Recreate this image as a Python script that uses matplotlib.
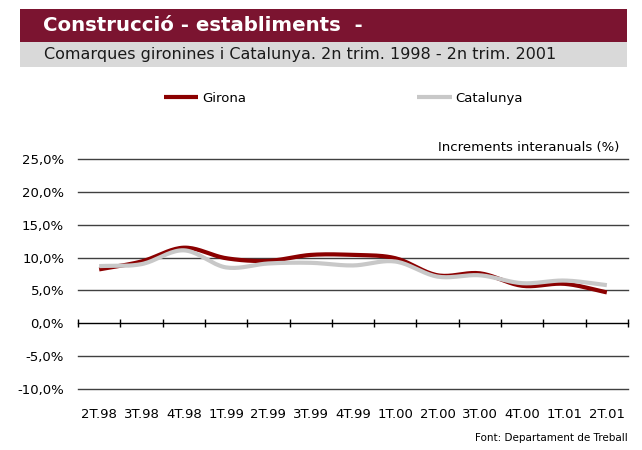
import numpy as np
import matplotlib
matplotlib.use("Agg")
import matplotlib.pyplot as plt
from matplotlib.patches import Rectangle

categories = ["2T.98", "3T.98", "4T.98", "1T.99", "2T.99", "3T.99", "4T.99",
              "1T.00", "2T.00", "3T.00", "4T.00", "1T.01", "2T.01"]
girona = [8.2, 9.4, 11.5, 9.9, 9.5, 10.4, 10.4, 9.9, 7.3, 7.6, 5.7, 6.0, 4.7]
catalunya = [8.7, 9.0, 11.1, 8.5, 9.1, 9.2, 8.8, 9.4, 7.1, 7.3, 6.1, 6.5, 5.8]
yticks = [-10, -5, 0, 5, 10, 15, 20, 25]


def smooth(y, n=20):
    y = np.asarray(y, float)
    x = np.arange(len(y), dtype=float)
    P = np.concatenate([[2 * y[0] - y[1]], y, [2 * y[-1] - y[-2]]])
    xs, ys = [], []
    for i in range(len(y) - 1):
        p0, p1, p2, p3 = P[i], P[i + 1], P[i + 2], P[i + 3]
        t = np.linspace(0, 1, n, endpoint=False)
        yy = 0.5 * ((2 * p1) + (-p0 + p2) * t + (2 * p0 - 5 * p1 + 4 * p2 - p3) * t ** 2
                    + (-p0 + 3 * p1 - 3 * p2 + p3) * t ** 3)
        xs.append(x[i] + t)
        ys.append(yy)
    xs.append([x[-1]])
    ys.append([y[-1]])
    return np.concatenate(xs), np.concatenate(ys)


plt.rcParams['font.family'] = ['DejaVu Sans']
fig = plt.figure(figsize=(6.42, 4.5), dpi=100)

# header bars
fig.patches.append(Rectangle((0.0312, 0.9074), 0.9455, 0.0719, transform=fig.transFigure,
                             facecolor="#7B1430", edgecolor="none"))
fig.patches.append(Rectangle((0.0312, 0.8518), 0.9455, 0.0556, transform=fig.transFigure,
                             facecolor="#D9D9D9", edgecolor="none"))
fig.text(0.067, 0.943, "Construcció - establiments  -", color="white", fontsize=14.2,
         fontweight="bold", va="center", ha="left")
fig.text(0.068, 0.879, "Comarques gironines i Catalunya. 2n trim. 1998 - 2n trim. 2001",
         color="#1a1a1a", fontsize=11.5, va="center", ha="left")

ax = fig.add_axes([0.1215, 0.1356, 0.8567, 0.5111])
n = len(categories)
ax.set_xlim(-0.5, n - 0.5)
ax.set_ylim(-10, 25)

for v in yticks:
    if v != 0:
        ax.axhline(v, color="#404040", lw=1, zorder=1, clip_on=False)
ax.axhline(0, color="black", lw=1, zorder=1, clip_on=False)

xg, yg = smooth(girona)
xc, yc = smooth(catalunya)
ax.plot(xg, yg, color="#8B0000", lw=3, solid_capstyle="butt", zorder=3, label="Girona")
ax.plot(xc, yc, color="#C8C8C8", lw=3, solid_capstyle="butt", zorder=4, label="Catalunya")

for s in ax.spines.values():
    s.set_visible(False)
ax.set_yticks(yticks)
ax.set_yticklabels([f"{v:.1f}%".replace(".", ",") for v in yticks], fontsize=9.5)
ax.tick_params(axis="y", length=0, pad=10)
ax.set_xticks(range(n))
ax.set_xticklabels(categories, fontsize=9.5)
ax.tick_params(axis="x", length=0, pad=14)

sec = ax.secondary_xaxis(10 / 35)
sec.spines["bottom"].set_visible(False)
sec.set_xticks(np.arange(-0.5, n, 1.0))
sec.set_xticklabels([])
sec.tick_params(axis="x", direction="inout", length=6, width=1, color="black")

ax.text(0.985, 1.02, "Increments interanuals (%)", transform=ax.transAxes, ha="right",
        va="bottom", fontsize=9.5)

leg = fig.legend(handles=ax.get_lines()[-2:], labels=["Girona", "Catalunya"],
                 loc="center", bbox_to_anchor=(0.535, 0.782), ncol=2, frameon=False,
                 fontsize=9.5, handlelength=2.6, columnspacing=13, handletextpad=0.3)

fig.text(0.978, 0.015, "Font: Departament de Treball", ha="right", va="bottom", fontsize=7.5)

fig.savefig("out.png", dpi=100)
